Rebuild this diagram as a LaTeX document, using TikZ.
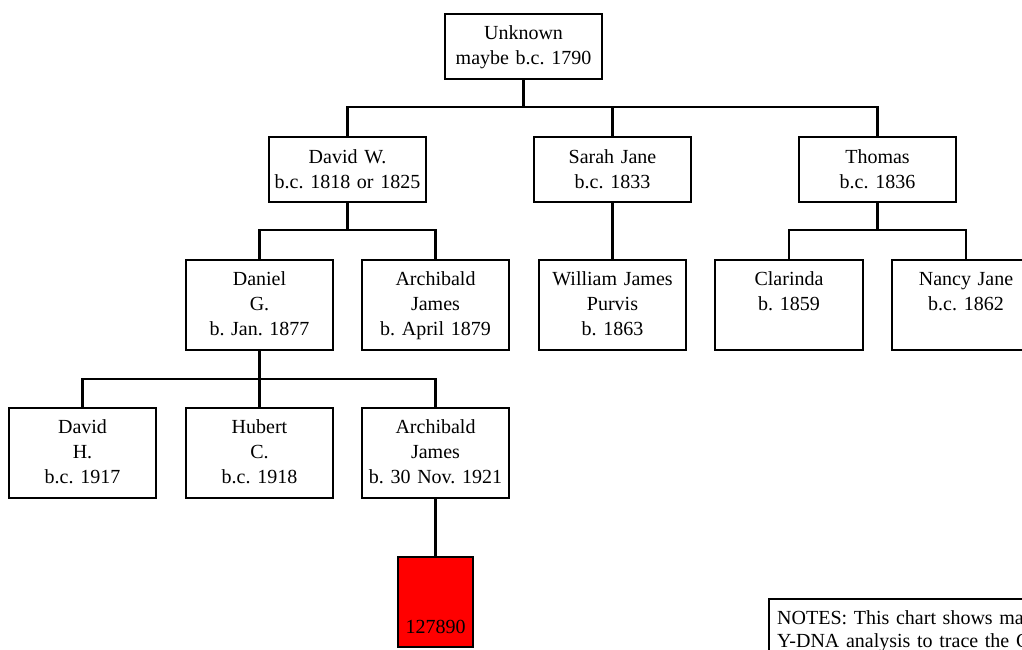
\documentclass[tikz,border=0pt]{standalone}
\usepackage{fontspec}
\setmainfont{Liberation Serif}
\frenchspacing
\begin{document}
\begin{tikzpicture}[x=1pt,y=-1pt,
  box/.style={draw=black,line width=2.2pt,rectangle,outer sep=0pt,inner sep=0pt,anchor=north west},
  txt/.style={font=\fontsize{20}{25}\selectfont\frenchspacing,text width=150pt,align=center,inner sep=0pt,anchor=north},
  link/.style={draw=black,line width=2.2pt}]
\useasboundingbox (0,0) rectangle (1022,649);
\fill[white] (0,0) rectangle (1022,649);
\clip (0,0) rectangle (1022,649);
% boxes
\node[box,minimum width=157pt,minimum height=65pt] (unk) at (445,14) {};
\node[box,minimum width=157pt,minimum height=65pt] (dw) at (269,137) {};
\node[box,minimum width=157pt,minimum height=65pt] (sj) at (534,137) {};
\node[box,minimum width=157pt,minimum height=65pt] (th) at (799,137) {};
\node[box,minimum width=147pt,minimum height=90pt] (dan) at (186,260) {};
\node[box,minimum width=147pt,minimum height=90pt] (aja) at (362,260) {};
\node[box,minimum width=147pt,minimum height=90pt] (wj) at (539,260) {};
\node[box,minimum width=148pt,minimum height=90pt] (cl) at (715,260) {};
\node[box,minimum width=148pt,minimum height=90pt] (nj) at (892,260) {};
\node[box,minimum width=147pt,minimum height=90pt] (dh) at (9,408) {};
\node[box,minimum width=147pt,minimum height=90pt] (hu) at (186,408) {};
\node[box,minimum width=147pt,minimum height=90pt] (ajb) at (362,408) {};
\node[box,fill=red,minimum width=75pt,minimum height=90pt] (dna) at (398,557) {};
\node[box,minimum width=400pt,minimum height=120pt] (notes) at (769,599) {};
% texts
\node[txt] (tunk) at ([yshift=-11.6pt]unk.north) {Unknown\\maybe b.c. 1790};
\node[txt] (tdw) at ([yshift=-12.3pt]dw.north) {David W.\\b.c. 1818 or 1825};
\node[txt] (tsj) at ([yshift=-12.3pt]sj.north) {Sarah Jane\\b.c. 1833};
\node[txt] (tth) at ([yshift=-12.3pt]th.north) {Thomas\\b.c. 1836};
\node[txt] (tdan) at ([yshift=-11.8pt]dan.north) {Daniel\\G.\\b. Jan. 1877};
\node[txt] (taja) at ([yshift=-11.8pt]aja.north) {Archibald\\James\\b. April 1879};
\node[txt] (twj) at ([yshift=-11.8pt]wj.north) {William James\\Purvis\\b. 1863};
\node[txt] (tcl) at ([yshift=-11.8pt]cl.north) {Clarinda\\b. 1859};
\node[txt] (tnj) at ([yshift=-11.8pt]nj.north) {Nancy Jane\\b.c. 1862};
\node[txt] (tdh) at ([yshift=-11.8pt]dh.north) {David\\H.\\b.c. 1917};
\node[txt] (thu) at ([yshift=-11.8pt]hu.north) {Hubert\\C.\\b.c. 1918};
\node[txt] (tajb) at ([yshift=-11.8pt]ajb.north) {Archibald\\James\\b. 30 Nov. 1921};
\node[txt] (tdna) at ([yshift=-62.6pt]dna.north) {127890};
\node[font=\fontsize{20}{23}\selectfont\frenchspacing,text width=400pt,align=left,inner sep=0pt,anchor=north west] (tnotes) at (777,610.8) {NOTES: This chart shows ma\\Y-DNA analysis to trace the C};
% connectors
\coordinate (b1) at (0,107);
\coordinate (b2) at (0,230);
\coordinate (b3) at (0,379);
\draw[link] (unk.south) -- (unk.south |- b1);
\draw[link] (dw.north) -- (dw.north |- b1) -| (th.north);
\draw[link] (sj.north) -- (sj.north |- b1);
\draw[link] (dw.south) -- (dw.south |- b2);
\draw[link] (dan.north) -- (dan.north |- b2) -| (aja.north);
\draw[link] (sj.south) -- (wj.north);
\draw[link] (th.south) -- (th.south |- b2);
\draw[link] (cl.north) -- (cl.north |- b2) -| (nj.north);
\draw[link] (dan.south) -- (hu.north);
\draw[link] (dh.north) -- (dh.north |- b3) -| (ajb.north);
\draw[link] (ajb.south) -- (ajb.south |- dna.north);
\end{tikzpicture}
\end{document}
